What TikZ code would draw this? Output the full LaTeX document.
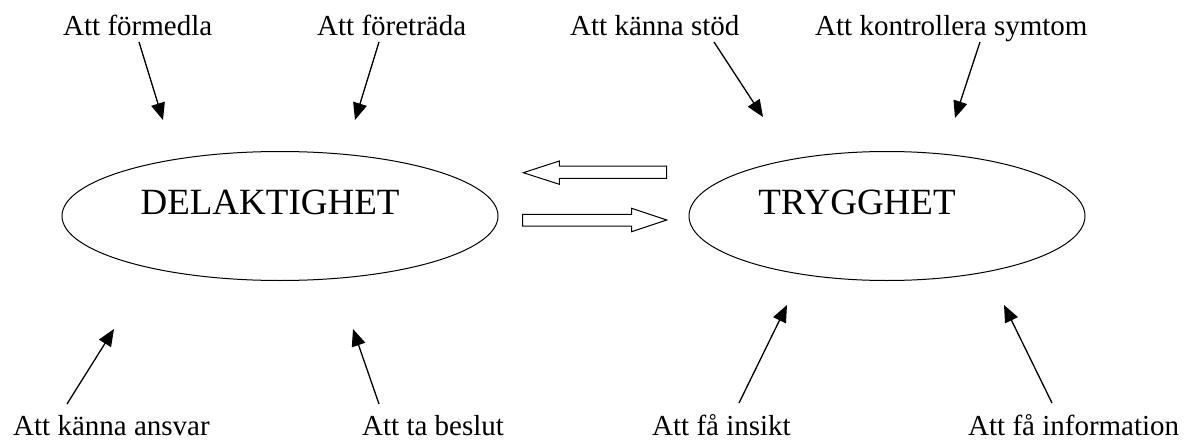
\documentclass[tikz,border=0pt]{standalone}
\usepackage{fontspec}
\setmainfont{Liberation Serif}
\usetikzlibrary{arrows.meta,shapes.geometric}
\begin{document}
\begin{tikzpicture}[x=1pt,y=-1pt,
  lbl/.style={font=\fontsize{29}{34}\selectfont, inner sep=0pt, anchor=base west},
  big/.style={font=\fontsize{37}{44}\selectfont, inner sep=0pt, anchor=base},
  ell/.style={draw, line width=1pt, ellipse, inner sep=0pt},
  pt/.style={line width=1.3pt, -{Triangle[length=17pt,width=14pt]}},
  blk/.style={draw, line width=1pt, line join=miter, fill=white}]
\useasboundingbox (0,0) rectangle (1185,441);
% ellipses
\node[ell, minimum width=436pt, minimum height=129pt] (L) at (280,216) {};
\node[ell, minimum width=396pt, minimum height=129pt] (R) at (887,216) {};
\node[big] (Lt) at (270,214) {DELAKTIGHET};
\node[big] (Rt) at (857,214) {TRYGGHET};
% labels
\node[lbl] (a1) at (63,36) {Att förmedla};
\node[lbl] (a2) at (317,36) {Att företräda};
\node[lbl] (a3) at (570,36) {Att känna stöd};
\node[lbl] (a4) at (815,36) {Att kontrollera symtom};
\node[lbl] (b1) at (13,435) {Att känna ansvar};
\node[lbl] (b2) at (362,435) {Att ta beslut};
\node[lbl] (b3) at (652,435) {Att få insikt};
\node[lbl] (b4) at (968,435) {Att få information};
% arrow end points
\coordinate (s1) at (139,42); \coordinate (t1) at (163,120);
\coordinate (s2) at (379,42); \coordinate (t2) at (355,120);
\coordinate (s3) at (714,42); \coordinate (t3) at (763,117);
\coordinate (s4) at (980,42); \coordinate (t4) at (955,118);
\coordinate (s5) at (67,404); \coordinate (t5) at (114,329);
\coordinate (s6) at (379,404); \coordinate (t6) at (353,329);
\coordinate (s7) at (739,403); \coordinate (t7) at (787,305);
\coordinate (s8) at (1052,403); \coordinate (t8) at (1004,305);
\foreach \i in {1,...,8} \draw[pt] (s\i) -- (t\i);
% block arrows
\draw[blk] (523.3,172.7) -- (559.3,161) -- (559.3,166) -- (666.7,166)
  -- (666.7,178.3) -- (559.3,178.3) -- (559.3,184.3) -- cycle;
\draw[blk] (666.7,220) -- (631.7,208.3) -- (631.7,214.3) -- (522.7,214.3)
  -- (522.7,226) -- (631.7,226) -- (631.7,231.7) -- cycle;
\end{tikzpicture}
\end{document}
